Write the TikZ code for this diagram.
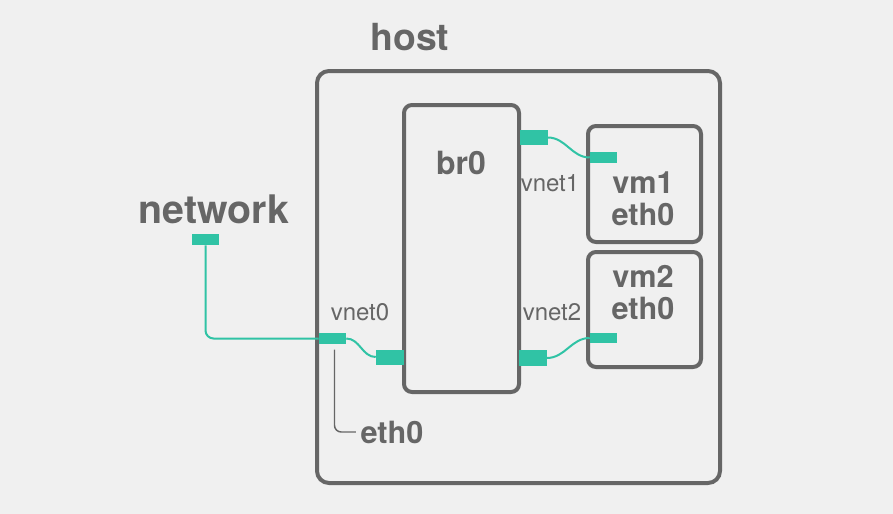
\documentclass[tikz,border=0pt]{standalone}
\usepackage{fontspec}
\setmainfont{TeX Gyre Heros}
\usepackage{tikz}
\usetikzlibrary{positioning}
\definecolor{teal}{HTML}{30C3A5}
\definecolor{ink}{HTML}{666666}
\definecolor{paper}{HTML}{F0F0F0}

\begin{document}
\begin{tikzpicture}[x=0.75pt,y=-0.75pt]
\tikzstyle{frame}=[rectangle, rounded corners=9pt, line width=3pt, draw=ink, inner sep=0pt]
\tikzstyle{tap}=[rectangle, fill=teal, inner sep=0pt, minimum width=20.25pt, minimum height=8.25pt]
\tikzstyle{brtap}=[rectangle, fill=teal, inner sep=0pt, minimum width=21pt, minimum height=11.25pt]
\tikzstyle{big}=[text=ink, font=\bfseries\fontsize{28}{30}\selectfont]
\tikzstyle{mid}=[text=ink, font=\bfseries\fontsize{23}{24}\selectfont, align=center]
\tikzstyle{small}=[text=ink, font=\fontsize{18}{20}\selectfont]
\tikzstyle{link}=[draw=teal, line width=1.5pt]
\tikzstyle{wire}=[draw=ink, line width=1.1pt]
\fill[paper] (0,0) rectangle (893,514);
\useasboundingbox (0,0) rectangle (893,514);
	\node[frame, minimum width=302.25pt, minimum height=309pt] (host) at (518.5,277) {};
	\node[frame, rounded corners=6pt, minimum width=86.25pt, minimum height=215.25pt] (br0) at (461.5,248.5) {};
	\node[frame, rounded corners=6pt, minimum width=84.75pt, minimum height=87pt] (vm1) at (644.5,184) {};
	\node[frame, rounded corners=6pt, minimum width=84.75pt, minimum height=86.25pt] (vm2) at (644.5,309.5) {};

	\node[big] (host_lbl) at (410,37) {host};
	\node[big, font=\bfseries\fontsize{29.5}{31}\selectfont] (net_lbl) at (214,209) {network};
	\node[mid, font=\bfseries\fontsize{24}{26}\selectfont] (br0_lbl) at (461,163) {br0};
	\node[mid] (vm1_lbl) at (643,199) {vm1\\eth0};
	\node[mid] (vm2_lbl) at (643,293) {vm2\\eth0};
	\node[mid] (eth0_lbl) at (392,432) {eth0};
	\node[small] (vnet0_lbl) at (360,312) {vnet0};
	\node[small] (vnet1_lbl) at (550,183) {vnet1};
	\node[small] (vnet2_lbl) at (552,312) {vnet2};

	\node[tap] (net_tap) at (205.5,239.5) {};
	\node[tap] (vnet0) at (332.5,338.5) {};
	\node[brtap] (br0_tap) at (390,357) {};
	\node[brtap] (vnet1) at (533.5,137.5) {};
	\node[tap] (vm1_tap) at (603.5,157.5) {};
	\node[brtap, minimum height=12pt] (vnet2) at (532.5,358) {};
	\node[tap, minimum height=7.5pt] (vm2_tap) at (603.5,338) {};

	\draw[link, rounded corners=6pt] (net_tap.south) |- (vnet0.west);
	\path
		(vnet0.east) edge [link, out=0, in=180] (br0_tap.west)
		(vnet1.east) edge [link, out=0, in=180] (vm1_tap.west)
		(vnet2.east) edge [link, out=0, in=180] (vm2_tap.west);
	\draw[wire, rounded corners=5pt, shorten <=4pt] ([xshift=1.5pt]vnet0.south) |- (eth0_lbl.west);
\end{tikzpicture}
\end{document}
